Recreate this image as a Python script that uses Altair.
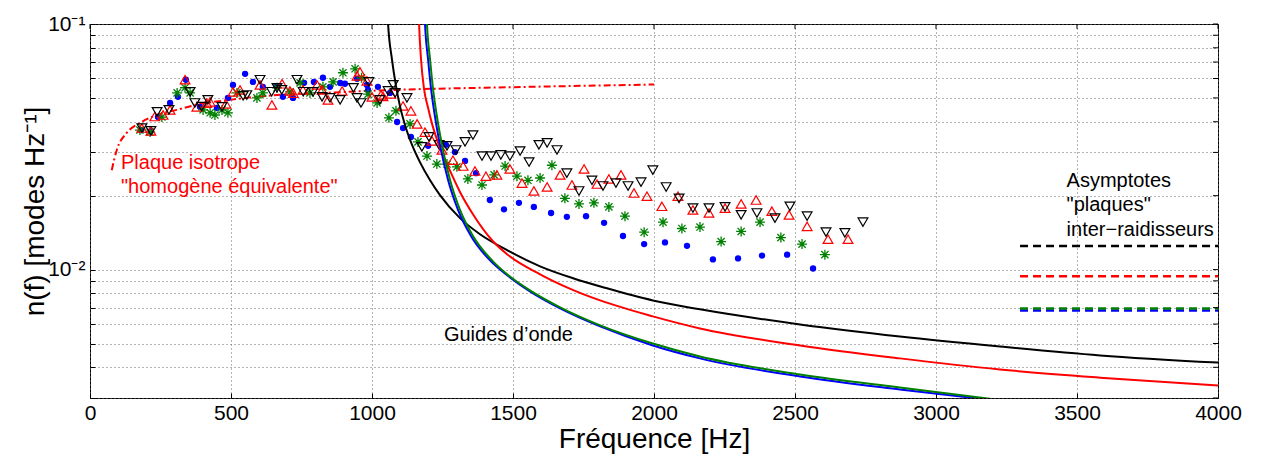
import altair as alt
import pandas as pd

FONT = "Liberation Sans"

# ---------------- measured points (frequency Hz, modal density modes/Hz) ----------------
blue_f = [181, 216, 241, 284, 312, 340, 390, 450, 489, 507, 550, 578, 613, 684, 720, 759, 794, 826, 851, 904,
          947, 982, 1021, 1064, 1089, 1110, 1138, 1199, 1262, 1294, 1330, 1369, 1418, 1468, 1521, 1574, 1635, 1691,
          1759, 1823, 1890, 1965, 2039, 2117, 2209, 2298, 2383, 2472, 2564,
          887, 986, 662]
blue_n = [0.0370, 0.0367, 0.0418, 0.0477, 0.0505, 0.0593, 0.0460, 0.0455, 0.0500, 0.0565, 0.0627, 0.0581, 0.0555,
          0.0505, 0.0500, 0.0576, 0.0581, 0.0604, 0.0555, 0.0571, 0.0598, 0.0565, 0.0555, 0.0524, 0.0399, 0.0377,
          0.0347, 0.0319, 0.0322, 0.0301, 0.0277, 0.0247, 0.0192, 0.0176, 0.0187, 0.0180, 0.0170, 0.0164, 0.0165,
          0.0155, 0.0137, 0.0127, 0.0129, 0.0125, 0.0110, 0.0111, 0.0114, 0.0115, 0.0101,
          0.0575, 0.0539, 0.0557]

green_f = [177, 213, 255, 309, 337, 355, 401, 426, 468, 489, 521, 592, 663, 709, 745, 780, 826, 862, 897, 940,
           986, 1018, 1060, 1085, 1135, 1163, 1195, 1230, 1266, 1301, 1340, 1390, 1433, 1472, 1514, 1553, 1596,
           1638, 1684, 1734, 1787, 1840, 1897, 1965, 2032, 2099, 2163, 2238, 2309, 2376, 2450, 2525, 2606,
           613, 963, 443]
green_n = [0.0370, 0.0363, 0.0418, 0.0524, 0.0550, 0.0524, 0.0447, 0.0435, 0.0447, 0.0435, 0.0524, 0.0500, 0.0550,
           0.0529, 0.0576, 0.0524, 0.0555, 0.0581, 0.0633, 0.0657, 0.0518, 0.0477, 0.0415, 0.0443, 0.0392, 0.0331,
           0.0290, 0.0269, 0.0269, 0.0262, 0.0234, 0.0221, 0.0243, 0.0264, 0.0240, 0.0231, 0.0236, 0.0266, 0.0195,
           0.0185, 0.0187, 0.0180, 0.0165, 0.0142, 0.0156, 0.0147, 0.0149, 0.0130, 0.0143, 0.0156, 0.0135, 0.0127,
           0.0115,
           0.0524, 0.0604, 0.0426]

red_f = [184, 216, 259, 284, 337, 379, 426, 482, 507, 603, 645, 681, 709, 755, 805, 823, 844, 894, 947, 957,
         982, 1000, 1032, 1067, 1110, 1138, 1160, 1188, 1213, 1248, 1287, 1323, 1365, 1404, 1443, 1489, 1532, 1574,
         1621, 1667, 1709, 1752, 1798, 1840, 1883, 1929, 1975, 2028, 2085, 2138, 2195, 2252, 2309, 2362, 2418,
         2479, 2543, 2617, 2688,
         230, 414, 532, 721, 1039]
red_n = [0.0377, 0.0367, 0.0426, 0.0447, 0.0593, 0.0460, 0.0482, 0.0473, 0.0529, 0.0565, 0.0468, 0.0571, 0.0534,
         0.0539, 0.0565, 0.0539, 0.0491, 0.0534, 0.0615, 0.0639, 0.0587, 0.0505, 0.0514, 0.0519, 0.0464, 0.0443,
         0.0392, 0.0363, 0.0334, 0.0307, 0.0279, 0.0264, 0.0252, 0.0240, 0.0243, 0.0257, 0.0225, 0.0209, 0.0217,
         0.0243, 0.0221, 0.0257, 0.0223, 0.0234, 0.0243, 0.0205, 0.0199, 0.0181, 0.0199, 0.0175, 0.0170, 0.0178,
         0.0185, 0.0192, 0.0173, 0.0167, 0.0150, 0.0133, 0.0133,
         0.0420, 0.0476, 0.0539, 0.0523, 0.0507]

black_f = [184, 216, 238, 280, 355, 372, 418, 468, 543, 603, 663, 734, 791, 823, 887, 947, 961, 989, 1028, 1057,
           1082, 1124, 1177, 1202, 1238, 1266, 1298, 1330, 1358, 1390, 1422, 1457, 1489, 1525, 1557, 1592, 1621,
           1656, 1691, 1734, 1780, 1819, 1865, 1908, 1954, 1996, 2043, 2089, 2138, 2195, 2252, 2309, 2365, 2429,
           2482, 2543, 2610, 2677, 2741,
           396, 556, 644, 680, 756, 851, 934, 1075]
black_n = [0.0377, 0.0367, 0.0439, 0.0447, 0.0529, 0.0477, 0.0491, 0.0460, 0.0510, 0.0593, 0.0550, 0.0593, 0.0529,
           0.0505, 0.0491, 0.0500, 0.0477, 0.0581, 0.0491, 0.0534, 0.0524, 0.0500, 0.0316, 0.0347, 0.0322, 0.0319,
           0.0307, 0.0331, 0.0353, 0.0290, 0.0290, 0.0293, 0.0290, 0.0304, 0.0274, 0.0322, 0.0328, 0.0307, 0.0247,
           0.0209, 0.0231, 0.0219, 0.0225, 0.0219, 0.0227, 0.0254, 0.0217, 0.0195, 0.0178, 0.0178, 0.0180, 0.0167,
           0.0170, 0.0162, 0.0181, 0.0165, 0.0142, 0.0141, 0.0156,
           0.0461, 0.0514, 0.0530, 0.0539, 0.0530, 0.0500, 0.0550, 0.0565]

# ---------------- model curves ----------------
plate_f = [77, 95, 130, 177, 236, 307, 378, 496, 663, 826, 1075, 1500, 2000]
plate_n = [0.0254, 0.0307, 0.0360, 0.0395, 0.0426, 0.0447, 0.0469, 0.0491, 0.0514, 0.0524, 0.0539, 0.0553, 0.0567]

guide_black_f = [1052, 1057, 1071, 1085, 1099, 1117, 1142, 1170, 1206, 1241, 1312, 1383, 1479, 1596, 1713, 1833,
                 1996, 2163, 2518, 2872, 3227, 3582, 4000]
guide_black_n = [0.13, 0.100, 0.0715, 0.0560, 0.0464, 0.0388, 0.0322, 0.0274, 0.0231, 0.0201, 0.0162, 0.01393,
                 0.0120, 0.01031, 0.00922, 0.00839, 0.00749, 0.00689, 0.00598, 0.00534, 0.00486, 0.00447, 0.00418]

guide_red_f = [1164, 1167, 1174, 1184, 1199, 1213, 1241, 1277, 1312, 1358, 1429, 1479, 1596, 1691, 1809, 1996,
               2163, 2518, 2872, 3227, 3582, 4000]
guide_red_n = [0.13, 0.100, 0.0715, 0.0550, 0.0455, 0.0392, 0.0313, 0.0252, 0.0207, 0.0168, 0.01304, 0.01155,
               0.00957, 0.00847, 0.00749, 0.00645, 0.00576, 0.00491, 0.00435, 0.00392, 0.00363, 0.00337]

guide_blue_f = [1184, 1188, 1199, 1209, 1223, 1241, 1270, 1305, 1351, 1422, 1475, 1560, 1667, 1809, 1996, 2163,
                2518, 2872, 3156]
guide_blue_n = [0.13, 0.100, 0.0715, 0.0550, 0.0422, 0.0322, 0.0231, 0.0175, 0.0137, 0.0108, 0.00957, 0.00815,
                0.00695, 0.00587, 0.00491, 0.00435, 0.00367, 0.00325, 0.00298]

guide_green_f = [1191, 1195, 1206, 1216, 1230, 1248, 1277, 1312, 1358, 1429, 1479, 1560, 1667, 1809, 1996, 2163,
                 2518, 2872, 3191]
guide_green_n = [0.13, 0.100, 0.0715, 0.0550, 0.0422, 0.0322, 0.0231, 0.0175, 0.0137, 0.0108, 0.00957, 0.00823,
                 0.00702, 0.00593, 0.00500, 0.00443, 0.00374, 0.00331, 0.00298]

asym_f = [3298, 4000]
asym_black = 0.01248
asym_red = 0.00939
asym_green = 0.00694
asym_blue = 0.00682

# ---------------- axes ----------------
x_ticks = [0, 500, 1000, 1500, 2000, 2500, 3000, 3500, 4000]
y_ticks = [0.003, 0.004, 0.005, 0.006, 0.007, 0.008, 0.009, 0.01,
           0.02, 0.03, 0.04, 0.05, 0.06, 0.07, 0.08, 0.09, 0.1]

x_scale = alt.Scale(domain=[0, 4000], nice=False, zero=False)
y_scale = alt.Scale(type="log", domain=[0.003, 0.1], nice=False)

GRID = dict(grid=True, gridDash=[1, 3], gridColor="#666666", gridWidth=1, gridOpacity=1)
TICKS_IN = dict(ticks=True, tickSize=5, tickColor="black", tickWidth=1, offset=-5, domain=False)

x_enc = alt.X("f:Q", scale=x_scale,
              axis=alt.Axis(values=x_ticks, format="d", labelFont=FONT, labelFontSize=21, labelColor="black",
                            labelPadding=4, labelFlush=False, labelOverlap=False,
                            title="Fréquence [Hz]", titleFont=FONT, titleFontSize=28, titleFontWeight="normal",
                            titleColor="black", titleX=564, titleY=54, titleBaseline="alphabetic",
                            titleAlign="center", **GRID, **TICKS_IN))
y_enc = alt.Y("n:Q", scale=y_scale,
              axis=alt.Axis(values=y_ticks, labelFont=FONT, labelFontSize=21, labelColor="black",
                            labelPadding=5, labelFlush=False, labelOverlap=False,
                            labelExpr="datum.value > 0.095 ? '10⁻¹' : (datum.value > 0.0095 && datum.value < 0.0105 ? '10⁻²' : '')",
                            title="n(f) [modes Hz⁻¹]", titleFont=FONT, titleFontSize=28, titleFontWeight="normal",
                            titleColor="black", titleX=-52, titleY=187, titleAngle=270,
                            titleBaseline="alphabetic", titleAlign="center", **GRID, **TICKS_IN))


def df(f, n):
    return pd.DataFrame({"f": f, "n": n})


def curve(f, n, color, width=2, dash=None):
    kw = dict(color=color, strokeWidth=width, clip=True, interpolate="monotone")
    if dash is not None:
        kw["strokeDash"] = dash
    return alt.Chart(df(f, n)).mark_line(**kw).encode(x=x_enc, y=y_enc)


ASTERISK = "M-1,0L1,0M0,-1L0,1M-0.72,-0.72L0.72,0.72M-0.72,0.72L0.72,-0.72"

# inward frame ticks on the top and right edges
top_ticks = alt.Chart(pd.DataFrame({"f": x_ticks})).mark_tick(
    orient="vertical", size=5, thickness=1, color="black", opacity=1
).encode(x=x_enc, y=alt.value(2.5))
right_ticks = alt.Chart(pd.DataFrame({"n": y_ticks})).mark_tick(
    orient="horizontal", size=5, thickness=1, color="black", opacity=1
).encode(y=y_enc, x=alt.value(1125.5))

plate = curve(plate_f, plate_n, "#ff0000", 2, [7, 3, 2, 3])

pts_blue = alt.Chart(df(blue_f, blue_n)).mark_point(shape="circle", filled=True, color="#0000ff", size=40,
                                                    opacity=1).encode(x=x_enc, y=y_enc)
pts_green = alt.Chart(df(green_f, green_n)).mark_point(shape=ASTERISK, filled=False, color="#008000", size=100,
                                                       strokeWidth=1.3, opacity=1).encode(x=x_enc, y=y_enc)
pts_red = alt.Chart(df(red_f, red_n)).mark_point(shape="triangle-up", filled=False, color="#ff0000", size=95,
                                                 strokeWidth=1.2, opacity=1).encode(x=x_enc, y=y_enc)
pts_black = alt.Chart(df(black_f, black_n)).mark_point(shape="triangle-down", filled=False, color="black", size=95,
                                                       strokeWidth=1.2, opacity=1).encode(x=x_enc, y=y_enc)

g_black = curve(guide_black_f, guide_black_n, "black")
g_red = curve(guide_red_f, guide_red_n, "#ff0000")
g_blue = curve(guide_blue_f, guide_blue_n, "#0000ff")
g_green = curve(guide_green_f, guide_green_n, "#008000")

a_black = curve(asym_f, [asym_black] * 2, "black", 2.5, [8, 5])
a_red = curve(asym_f, [asym_red] * 2, "#ff0000", 2.5, [8, 5])
a_blue = curve(asym_f, [asym_blue] * 2, "#0000ff", 2.5, [8, 5])
a_green = curve(asym_f, [asym_green] * 2, "#008000", 2.5, [8, 5])

# ---------------- annotations ----------------
notes_text = ["Plaque isotrope", "\"homogène équivalente\"", "Guides d’onde",
              "Asymptotes", "\"plaques\"", "inter−raidisseurs"]
notes_f = [110, 110, 1255, 3463, 3463, 3463]
notes_n = [0.02567, 0.0205, 0.0051, 0.02168, 0.0173, 0.01368]
notes_color = ["#ff0000", "#ff0000", "black", "black", "black", "black"]
notes = pd.DataFrame({"f": notes_f, "n": notes_n, "t": notes_text, "c": notes_color})
text_layer = alt.Chart(notes).mark_text(font=FONT, fontSize=20, align="left", baseline="alphabetic").encode(
    x=x_enc, y=y_enc, text="t:N", color=alt.Color("c:N", scale=None))

chart = alt.layer(
    plate, pts_blue, pts_green, pts_red, pts_black,
    g_black, g_red, g_blue, g_green,
    a_black, a_red, a_blue, a_green,
    text_layer, top_ticks, right_ticks,
).properties(
    width=1128, height=374,
    padding={"left": 82, "top": 16, "right": 37, "bottom": 58},
    autosize=alt.AutoSizeParams(type="none"),
).configure_view(stroke="black", strokeWidth=1)

chart.save("out.html", embed_options={"renderer": "svg", "actions": False})
